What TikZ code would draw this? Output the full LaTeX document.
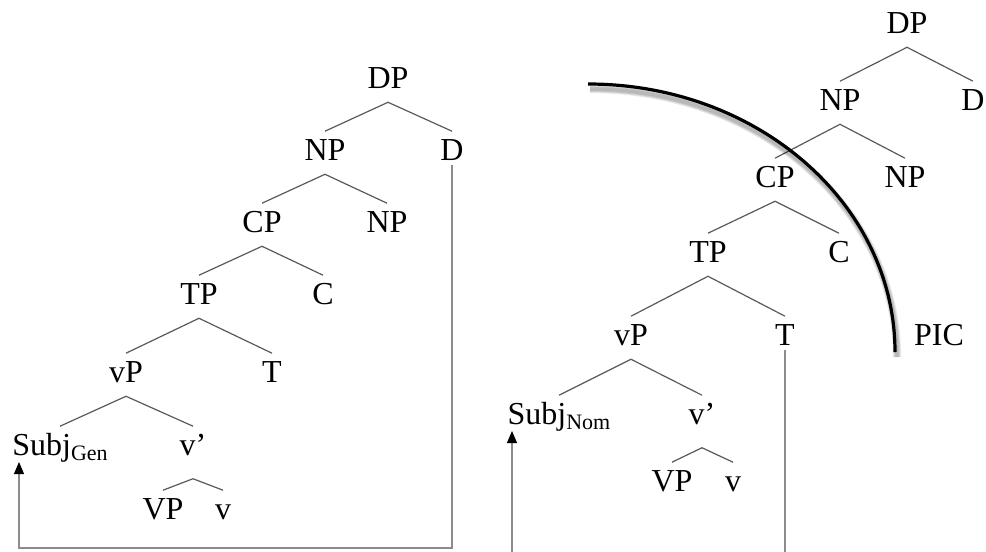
\documentclass[tikz,border=0pt]{standalone}
\usepackage{fontspec}
\setmainfont{Liberation Serif}
\usetikzlibrary{arrows.meta,calc}
\newcommand{\subtxt}[1]{\raisebox{-3.75pt}{\fontsize{16.5}{18}\selectfont #1}}
\begin{document}
\begin{tikzpicture}[x=0.75pt,y=-0.75pt,
  tn/.style={anchor=base,inner sep=0pt,text height=21.4pt,text depth=10.5pt,
    font=\fontsize{24}{28}\selectfont},
  deepv/.style={text depth=17.6pt},
  br/.style={draw=black!65,line width=0.9pt},
  mv/.style={draw=black!45,line width=0.8pt},
  mvarrow/.style={mv,-{Triangle[length=9pt,width=7.5pt,fill=black,color=black]}},
  picarc/.style={line width=2.4pt,black},
  shade/.style={line width=#1,black,opacity=0.08}]
\useasboundingbox (0,0) rectangle (986,551);

% ---------- left tree ----------
\node[tn] (lDP) at (388,88) {DP};
\node[tn] (lNP) at (325,160) {NP};
\node[tn] (lD) at (452,160) {D};
\node[tn] (lCP) at (262,232) {CP};
\node[tn] (lNPb) at (387,232) {NP};
\node[tn] (lTP) at (199,304) {TP};
\node[tn] (lC) at (323,304) {C};
\node[tn] (lvP) at (126,382) {vP};
\node[tn] (lT) at (272,382) {T};
\node[tn] (lSubj) at (60,455) {Subj\subtxt{Gen}};
\node[tn,deepv] (lvb) at (193,455) {v’};
\node[tn] (lVP) at (163,519) {VP};
\node[tn] (lv) at (223,519) {v};

\draw[br] (lNP.north) -- (lDP.south) -- (lD.north);
\draw[br] (lCP.north) -- (lNP.south) -- (lNPb.north);
\draw[br] (lTP.north) -- (lCP.south) -- (lC.north);
\draw[br] (lvP.north) -- (lTP.south) -- (lT.north);
\draw[br] (lSubj.north) -- (lvP.south) -- (lvb.north);
\draw[br] (lVP.north) -- (lvb.south) -- (lv.north);

\coordinate (lcornerR) at (452,548);
\coordinate (lcornerL) at (19,548);
\coordinate (ltip) at (19,462);
\draw[mvarrow] ($(lD.base)+(0,5)$) -- (lcornerR) -- (lcornerL) -- (ltip);

% ---------- right tree ----------
\node[tn] (rDP) at (907,33) {DP};
\node[tn] (rNP) at (840,110) {NP};
\node[tn] (rD) at (973,110) {D};
\node[tn] (rCP) at (775,187) {CP};
\node[tn] (rNPb) at (905,187) {NP};
\node[tn] (rTP) at (708,262) {TP};
\node[tn] (rC) at (839,262) {C};
\node[tn] (rvP) at (631,345) {vP};
\node[tn] (rT) at (785,345) {T};
\node[tn] (rSubj) at (559,424) {Subj\subtxt{Nom}};
\node[tn,deepv] (rvb) at (702,424) {v’};
\node[tn] (rVP) at (672,491) {VP};
\node[tn] (rv) at (733,491) {v};

\draw[br] (rNP.north) -- (rDP.south) -- (rD.north);
\draw[br] (rCP.north) -- (rNP.south) -- (rNPb.north);
\draw[br] (rTP.north) -- (rCP.south) -- (rC.north);
\draw[br] (rvP.north) -- (rTP.south) -- (rT.north);
\draw[br] (rSubj.north) -- (rvP.south) -- (rvb.north);
\draw[br] (rVP.north) -- (rvb.south) -- (rv.north);

\coordinate (rTend) at (785,553);
\draw[mv] ($(rT.base)+(0,5)$) -- (rTend);
\coordinate (rstart) at (512,553);
\coordinate (rtip) at (512,431);
\draw[mvarrow] (rstart) -- (rtip);

% ---------- PIC arc ----------
\coordinate (arcEnd) at (895,352);
\foreach \w in {2.6pt,3.8pt,5pt,6.2pt}{
  \draw[shade=\w] ($(arcEnd)+(2,5)$) arc[start angle=0,end angle=90,x radius=230.25pt,y radius=201pt];
}
\draw[picarc] (arcEnd) arc[start angle=0,end angle=90,x radius=230.25pt,y radius=201pt];
\node[tn] (pic) at (939,345) {PIC};
\end{tikzpicture}
\end{document}
